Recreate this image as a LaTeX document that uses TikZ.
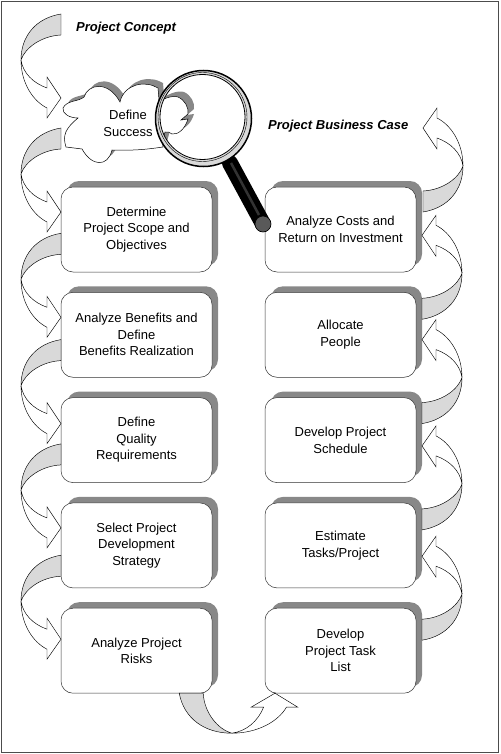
\documentclass[tikz,border=0pt]{standalone}
\usepackage{fontspec}
\setmainfont{Liberation Sans}
\usetikzlibrary{positioning, calc, shadows}
\definecolor{shadowgray}{HTML}{888888}
\definecolor{curlgray}{HTML}{D9D9D9}
\tikzset{
  taskbox/.style={draw=black!80, fill=white, line width=0.5pt, rounded corners=12pt, minimum width=151pt, minimum height=85pt, inner sep=0pt, outer sep=0pt, align=center, font=\fontsize{13}{16.5}\selectfont,
    general shadow={fill=shadowgray, shadow xshift=6pt, shadow yshift=6pt}},
  phaselabel/.style={inner sep=0pt, font=\fontsize{13}{16}\selectfont\bfseries\itshape},
  pics/curlarrow/.style={code={
    \draw[fill=curlgray, line width=0.45pt] (0,-84) .. controls (-25,-80) and (-40,-62) .. (-40,-38) .. controls (-36,-50) and (-20,-62) .. (0,-63) -- cycle;
    \draw[fill=white, line width=0.45pt] (-40,-38) .. controls (-40,-15) and (-28,3) .. (-14,10) -- (-14,20) -- (0,0) -- (-14,-21) -- (-14,-10) .. controls (-28,-15) and (-38,-25) .. (-40,-38) -- cycle;
  }}
}
\newcommand{\cloudshape}{(63,108) .. controls (67,100) and (78,102) .. (84,97) .. controls (88,84) and (108,80) .. (120,102) .. controls (124,84) and (145,80) .. (158,88) -- (163,147) to[bend left=5] (112,150) .. controls (108,167) and (92,167) .. (82,149) -- (66,147) .. controls (62,135) and (66,128) .. (78,118) .. controls (70,118) and (62,114) .. (63,108) -- cycle}
\newcommand{\lensshape}{(155,104) .. controls (162,99) and (172,95) .. (178,97) .. controls (185,100) and (189,108) .. (188,114) -- (181,120) -- (188,119) .. controls (185,129) and (178,135) .. (172,134) .. controls (170,133) and (168,131) .. (165,132) -- (160,150) -- (150,150) -- cycle}
\begin{document}
\begin{tikzpicture}[x=1pt, y=-1pt]
\useasboundingbox (0,0) rectangle (500,754);
\draw[draw=black!70, line width=0.9pt] (1.5,1.5) rectangle (498,752);

% left column
\node[taskbox, anchor=north west] (scope) at (61,187) {Determine\\Project Scope and\\Objectives};
\node[taskbox, below=20.3pt of scope] (benefits) {Analyze Benefits and\\Define\\Benefits Realization};
\node[taskbox, below=20.3pt of benefits] (quality) {Define\\Quality\\Requirements};
\node[taskbox, below=20.3pt of quality] (strategy) {Select Project\\Development\\Strategy};
\node[taskbox, below=20.3pt of strategy] (risks) {Analyze Project\\Risks};

% right column
\node[taskbox, anchor=north west] (costs) at (265,187) {Analyze Costs and\\Return on Investment};
\node[taskbox, below=20.3pt of costs] (people) {Allocate\\People};
\node[taskbox, below=20.3pt of people] (schedule) {Develop Project\\Schedule};
\node[taskbox, below=20.3pt of schedule] (estimate) {Estimate\\Tasks/Project};
\node[taskbox, below=20.3pt of estimate] (tasklist) {Develop\\Project Task\\List};

\node[phaselabel, anchor=west] (concept) at (76,28) {Project Concept};
\node[phaselabel, anchor=west] (business) at (268,126) {Project Business Case};

% cloud
\fill[shadowgray, shift={(5,-5)}] \cloudshape;
\draw[fill=white, line width=0.5pt] \cloudshape;
\node[align=center, inner sep=0pt, font=\fontsize{13}{16.5}\selectfont] (success) at (128,123.5) {Define\\Success};
\coordinate (cloudin) at (61,98);
\coordinate (projectout) at (423,128);

% curl arrows down the left side
\pic at (cloudin) {curlarrow};
\pic at ($(scope.north west)+(0,25)$) {curlarrow};
\pic at ($(benefits.north west)+(0,25)$) {curlarrow};
\pic at ($(quality.north west)+(0,26)$) {curlarrow};
\pic at ($(strategy.north west)+(0,25)$) {curlarrow};
\pic at ($(risks.north west)+(0,31)$) {curlarrow};
% bottom turn
\pic[rotate=90, yscale=1.14] at ($(tasklist.south west)+(10,0)$) {curlarrow};
% curl arrows up the right side
\pic[rotate=180] at ($(tasklist.north east)+(6,-52)$) {curlarrow};
\pic[rotate=180] at ($(estimate.north east)+(6,-57)$) {curlarrow};
\pic[rotate=180] at ($(schedule.north east)+(6,-58)$) {curlarrow};
\pic[rotate=180] at ($(people.north east)+(6,-57)$) {curlarrow};
\pic[rotate=180] at (projectout) {curlarrow};

% magnifier
\coordinate (lens) at (203.5,118.5);
\coordinate (glass) at (202.5,117);
\draw[line cap=round, line width=16pt, black] (230,163) -- (263,224);
\draw[line cap=butt, line width=2.5pt, black!80] (231,163) -- (259,215);
\fill[black!65] (263,224) circle (8);
\draw[line width=0.6pt] (263,224) circle (8);
\fill[curlgray] (lens) circle (48);
\fill[white] (glass) circle (42.5);
\begin{scope}
  \clip (glass) circle (42.5);
  \fill[shadowgray, shift={(6,-5)}] \lensshape;
  \draw[fill=white, line width=0.5pt] \lensshape;
\end{scope}
\draw[line width=1.5pt] (lens) circle (48);
\draw[line width=0.8pt] (glass) circle (42.5);
\draw[line width=0.4pt] (glass) circle (44.5);
\end{tikzpicture}
\end{document}
